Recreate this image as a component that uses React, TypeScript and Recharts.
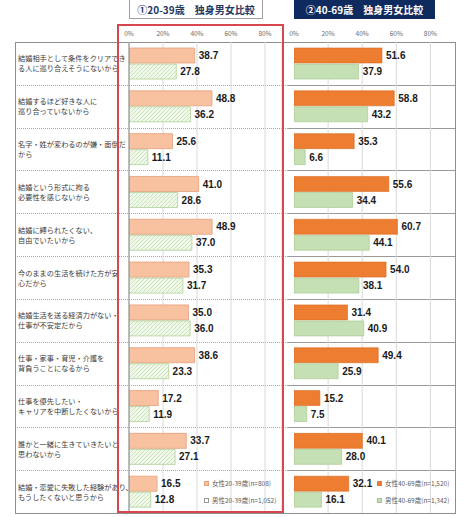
import React from "react";
import { BarChart, Bar, XAxis, YAxis, CartesianGrid, LabelList } from "recharts";

const categories = [
  "結婚相手として条件をクリアでき\nる人に巡り合えそうにないから",
  "結婚するほど好きな人に\n巡り合っていないから",
  "名字・姓が変わるのが嫌・面倒だ\nから",
  "結婚という形式に拘る\n必要性を感じないから",
  "結婚に縛られたくない、\n自由でいたいから",
  "今のままの生活を続けた方が安\n心だから",
  "結婚生活を送る経済力がない・\n仕事が不安定だから",
  "仕事・家事・育児・介護を\n背負うことになるから",
  "仕事を優先したい・\nキャリアを中断したくないから",
  "誰かと一緒に生きていきたいと\n思わないから",
  "結婚・恋愛に失敗した経験があり、\nもうしたくないと思うから",
];
const female2039 = [38.7, 48.8, 25.6, 41.0, 48.9, 35.3, 35.0, 38.6, 17.2, 33.7, 16.5];
const male2039 = [27.8, 36.2, 11.1, 28.6, 37.0, 31.7, 36.0, 23.3, 11.9, 27.1, 12.8];
const female4069 = [51.6, 58.8, 35.3, 55.6, 60.7, 54.0, 31.4, 49.4, 15.2, 40.1, 32.1];
const male4069 = [37.9, 43.2, 6.6, 34.4, 44.1, 38.1, 40.9, 25.9, 7.5, 28.0, 16.1];
const xTicks = [0, 20, 40, 60, 80];
const titles = ["①20-39歳　独身男女比較", "②40-69歳　独身男女比較"];
const seriesNames = ["女性20-39歳(n=808)", "男性20-39歳(n=1,052)", "女性40-69歳(n=1,520)", "男性40-69歳(n=1,342)"];

const data = categories.map((label, i) => ({
  label,
  fy: female2039[i],
  my: male2039[i],
  fo: female4069[i],
  mo: male4069[i],
}));

const FONT = "'Noto Sans CJK JP', 'Noto Sans', sans-serif";

const CategoryTick = (props: any) => {
  const lines = String(props.payload.value).split("\n");
  const y = props.y;
  const start = y - ((lines.length - 1) * 10) / 2;
  return (
    <text x={3} y={start} fontSize={7.2} fill="#3a3a3a" fontFamily={FONT} dominantBaseline="central">
      {lines.map((l: string, i: number) => (
        <tspan key={i} x={3} y={start + i * 10}>
          {l}
        </tspan>
      ))}
    </text>
  );
};

const fmt = (v: any) => Number(v).toFixed(1);
const labelStyle = { fontSize: 10, fontWeight: 700, fill: "#1a1a1a", fontFamily: "'Liberation Sans', Arial, sans-serif" };

const N = categories.length;
const rowH = 471 / N;

function Rows({ left, width, dotted }: { left: number; width: number; dotted: boolean }) {
  return (
    <div style={{ position: "absolute", left, top: 42, width, height: 471 }}>
      {categories.map((c, i) => (
        <div
          key={i}
          style={{
            position: "absolute",
            left: 0,
            width,
            top: i * rowH,
            height: rowH,
            borderTop: i === 0 ? "none" : dotted ? "1px dotted #a8a8a8" : "1px solid #9a9a9a",
            boxSizing: "border-box",
          }}
        />
      ))}
    </div>
  );
}

const gridRight = ({ offset }: any) => xTicks.filter((t) => t > 0).map((t) => offset.left + (t / 95) * offset.width);

export default function App() {
  return (
    <div style={{ position: "absolute", left: 0, top: 0, width: 474, height: 517, background: "#fff", fontFamily: FONT, overflow: "hidden" }}>
      <svg width={0} height={0} style={{ position: "absolute" }}>
        <defs>
          <pattern id="hatchGreen" patternUnits="userSpaceOnUse" width={4} height={4}>
            <rect width={4} height={4} fill="#f1f8ec" />
            <path d="M-1,1 l2,-2 M0,4 l4,-4 M3,5 l2,-2" stroke="#bcdca6" strokeWidth={0.8} />
          </pattern>
        </defs>
      </svg>

      {/* titles */}
      <div style={{ position: "absolute", left: 129, top: -1, width: 134, height: 20, border: "1px solid #a0a0a0", boxSizing: "border-box", color: "#1f3864", fontSize: 10, fontWeight: 700, display: "flex", alignItems: "center", justifyContent: "center", whiteSpace: "nowrap" }}>
        {titles[0]}
      </div>
      <div style={{ position: "absolute", left: 294, top: -1, width: 141, height: 20, background: "#0f2a5e", color: "#fff", fontSize: 10, fontWeight: 700, display: "flex", alignItems: "center", justifyContent: "center", whiteSpace: "nowrap" }}>
        {titles[1]}
      </div>

      {/* table frame */}
      <Rows left={15} width={273} dotted={true} />
      <Rows left={288} width={168} dotted={false} />
      <div style={{ position: "absolute", left: 15, top: 42, width: 441, height: 472, border: "1px solid #8f8f8f", boxSizing: "border-box" }} />

      {/* left chart */}
      <div style={{ position: "absolute", left: 15, top: 24 }}>
        <BarChart width={273} height={489} data={data} layout="vertical" margin={{ top: 0, right: 6, bottom: 0, left: 0 }} barSize={15} barGap={1}>
          <CartesianGrid horizontal={false} vertical={true} stroke="#d9d9d9" />
          <XAxis type="number" orientation="top" domain={[0, 90]} ticks={xTicks} allowDataOverflow height={18} axisLine={false} tickLine={false} tickSize={0} tickMargin={6} tick={{ fontSize: 6.5, fill: "#6a6a6a" }} tickFormatter={(v) => `${v}%`} interval={0} />
          <YAxis type="category" dataKey="label" width={114} axisLine={{ stroke: "#8a8a8a" }} tickLine={false} tick={<CategoryTick />} interval={0} />
          <Bar dataKey="fy" name={seriesNames[0]} fill="#f8c2a0" stroke="#e6a07c" strokeWidth={0.8} isAnimationActive={false}>
            <LabelList dataKey="fy" position="right" offset={4} formatter={fmt} style={labelStyle} />
          </Bar>
          <Bar dataKey="my" name={seriesNames[1]} fill="url(#hatchGreen)" stroke="#b0d198" strokeWidth={0.8} isAnimationActive={false}>
            <LabelList dataKey="my" position="right" offset={4} formatter={fmt} style={labelStyle} />
          </Bar>
        </BarChart>
      </div>

      {/* right chart */}
      <div style={{ position: "absolute", left: 288, top: 24 }}>
        <BarChart width={168} height={489} data={data} layout="vertical" margin={{ top: 0, right: 0, bottom: 0, left: 6 }} barSize={15} barGap={1}>
          <CartesianGrid horizontal={false} vertical={true} stroke="#d9d9d9" verticalCoordinatesGenerator={gridRight} />
          <XAxis type="number" orientation="top" domain={[0, 95]} ticks={xTicks} allowDataOverflow height={18} axisLine={false} tickLine={false} tickSize={0} tickMargin={6} tick={{ fontSize: 6.5, fill: "#6a6a6a" }} tickFormatter={(v) => `${v}%`} interval={0} />
          <YAxis type="category" dataKey="label" hide />
          <Bar dataKey="fo" name={seriesNames[2]} fill="#ed7d31" stroke="#d96a22" strokeWidth={0.6} isAnimationActive={false}>
            <LabelList dataKey="fo" position="right" offset={4} formatter={fmt} style={labelStyle} />
          </Bar>
          <Bar dataKey="mo" name={seriesNames[3]} fill="#c5e0b4" stroke="#9fc488" strokeWidth={0.6} isAnimationActive={false}>
            <LabelList dataKey="mo" position="right" offset={4} formatter={fmt} style={labelStyle} />
          </Bar>
        </BarChart>
      </div>

      {/* legends */}
      {[
        { left: 204, top: 479, name: seriesNames[0], sw: { background: "#f8c2a0", border: "0.5px solid #e6a07c" } },
        { left: 204, top: 496, name: seriesNames[1], sw: { background: "#fff", border: "0.8px solid #9a9a9a" } },
        { left: 377, top: 479, name: seriesNames[2], sw: { background: "#ed7d31" } },
        { left: 377, top: 496, name: seriesNames[3], sw: { background: "#c5e0b4", border: "0.5px solid #9fc488" } },
      ].map((l, i) => (
        <div key={i} style={{ position: "absolute", left: l.left, top: l.top, fontSize: 6.5, color: "#5a5a5a", display: "flex", alignItems: "center", whiteSpace: "nowrap", lineHeight: "8px" }}>
          <span style={{ display: "inline-block", width: 5, height: 5, marginRight: 3, boxSizing: "border-box", ...l.sw }} />
          {l.name}
        </div>
      ))}

      {/* red highlight box */}
      <div style={{ position: "absolute", left: 117, top: 24, width: 167, height: 489, border: "2px solid #d8474d", boxSizing: "border-box" }} />
    </div>
  );
}
